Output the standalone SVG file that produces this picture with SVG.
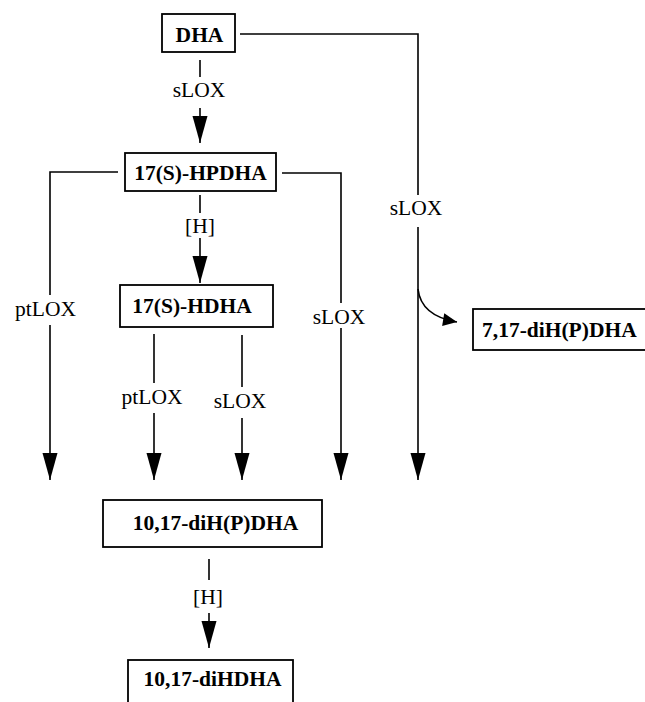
<svg xmlns="http://www.w3.org/2000/svg" width="645" height="702" viewBox="0 0 645 702">
<style>
.box{fill:#fff;stroke:#000;stroke-width:1.8}
.nt{font-family:"Liberation Serif",serif;font-weight:bold;font-size:21.5px;fill:#000}
.lt{font-family:"Liberation Serif",serif;font-size:21.5px;fill:#000;text-anchor:middle}
.ln{fill:none;stroke:#000;stroke-width:1.6}
</style>
<defs>
<marker id="ah" markerUnits="userSpaceOnUse" markerWidth="30" markerHeight="18" viewBox="-28 -9 30 18" refX="0" refY="0" orient="auto">
<path d="M0,0 L-27,-7.5 L-27,7.5 Z" fill="#000"/>
</marker>
<marker id="ahs" markerUnits="userSpaceOnUse" markerWidth="18" markerHeight="16" viewBox="-16 -8 18 16" refX="0" refY="0" orient="auto">
<path d="M0,0 L-14,-6.5 L-14,6.5 Z" fill="#000"/>
</marker>
</defs>
<rect width="645" height="702" fill="#fff"/>
<g id="connectors">
<line class="ln" x1="200" y1="60" x2="200" y2="77"/>
<line class="ln" x1="200" y1="108" x2="200" y2="143" marker-end="url(#ah)"/>
<polyline class="ln" points="240,34 418,34 418,195"/>
<line class="ln" x1="418" y1="227" x2="418" y2="480" marker-end="url(#ah)"/>
<path class="ln" d="M418,289 Q421,316 457,322" marker-end="url(#ahs)"/>
<polyline class="ln" points="118,172 50,172 50,295"/>
<line class="ln" x1="50" y1="325" x2="50" y2="480" marker-end="url(#ah)"/>
<polyline class="ln" points="282,173 341,173 341,303"/>
<line class="ln" x1="341" y1="328" x2="341" y2="480" marker-end="url(#ah)"/>
<line class="ln" x1="200" y1="195" x2="200" y2="213"/>
<line class="ln" x1="200" y1="238" x2="200" y2="283" marker-end="url(#ah)"/>
<line class="ln" x1="154" y1="334" x2="154" y2="383"/>
<line class="ln" x1="154" y1="413" x2="154" y2="480" marker-end="url(#ah)"/>
<line class="ln" x1="242" y1="335" x2="242" y2="387"/>
<line class="ln" x1="242" y1="418" x2="242" y2="480" marker-end="url(#ah)"/>
<line class="ln" x1="209" y1="559" x2="209" y2="580"/>
<line class="ln" x1="209" y1="613" x2="209" y2="648" marker-end="url(#ah)"/>
<text class="lt" x="199" y="97">sLOX</text>
<text class="lt" x="416" y="215">sLOX</text>
<text class="lt" x="200" y="233">[H]</text>
<text class="lt" x="45.5" y="316">ptLOX</text>
<text class="lt" x="339" y="324">sLOX</text>
<text class="lt" x="152" y="404">ptLOX</text>
<text class="lt" x="240" y="408">sLOX</text>
<text class="lt" x="208" y="604">[H]</text>
</g>
<g id="dha">
<rect class="box" x="162" y="14" width="73" height="38"/>
<text class="nt" x="199.5" y="42" text-anchor="middle">DHA</text>
</g>
<g id="hpdha">
<rect class="box" x="125" y="153" width="151" height="38"/>
<text class="nt" x="200.5" y="180" text-anchor="middle">17(S)-HPDHA</text>
</g>
<g id="hdha">
<rect class="box" x="120" y="285" width="153" height="42"/>
<text class="nt" x="192" y="313" text-anchor="middle">17(S)-HDHA</text>
</g>
<g id="di717">
<rect class="box" x="473" y="309" width="180" height="41"/>
<text class="nt" x="482" y="337">7,17-diH(P)DHA</text>
</g>
<g id="di1017p">
<rect class="box" x="103" y="500" width="219" height="47"/>
<text class="nt" x="215.5" y="530" text-anchor="middle">10,17-diH(P)DHA</text>
</g>
<g id="di1017">
<rect class="box" x="128" y="660" width="165" height="50"/>
<text class="nt" x="212.5" y="686" text-anchor="middle">10,17-diHDHA</text>
</g>
</svg>
